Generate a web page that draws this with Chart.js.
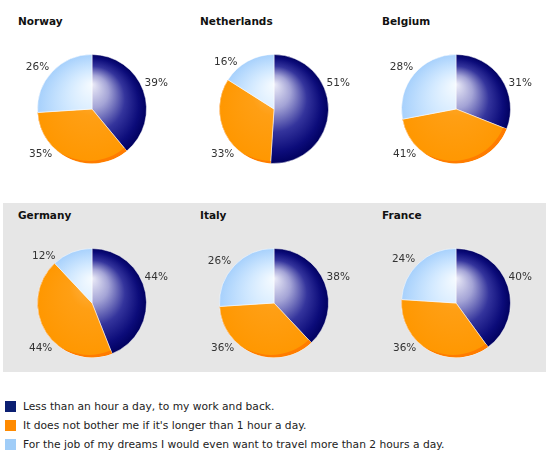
<!DOCTYPE html>
<html>
<head>
<meta charset="utf-8">
<script src="https://cdn.jsdelivr.net/npm/chart.js@4"></script>
<style>
  body { margin: 0; background: #fff; font-family: "DejaVu Sans", Verdana, sans-serif; }
  #page { position: relative; width: 546px; height: 472px; overflow: hidden; }
  .band { position: absolute; left: 3px; top: 203px; width: 543px; height: 169px; background: #e6e6e6; }
  .panel { position: absolute; width: 182px; height: 180px; }
  .panel h3 { position: absolute; left: 18px; top: 15px; margin: 0; font-size: 10.5px; line-height: 13px; font-weight: bold; color: #111; }
  .panel canvas { position: absolute; left: 0; top: 34px; }
  .legend { position: absolute; left: 5px; top: 400px; font-size: 10.7px; color: #222; }
  .legend div { height: 19px; line-height: 13px; white-space: nowrap; }
  .legend span { display: inline-block; width: 11px; height: 11px; margin-right: 7px; vertical-align: -2px; }
</style>
</head>
<body>
<div id="page">
  <div class="band"></div>
  <div id="panels"></div>
  <div class="legend" id="legend"></div>
</div>
<script>
// Данные: доля ответов по странам (%)
const countries = ["Norway", "Netherlands", "Belgium", "Germany", "Italy", "France"];
const lessThanHour = [39, 51, 31, 44, 38, 40];
const longerThanHour = [35, 33, 41, 44, 36, 36];
const dreamJob = [26, 16, 28, 12, 26, 24];
const answers = [
    "Less than an hour a day, to my work and back.",
    "It does not bother me if it's longer than 1 hour a day.",
    "For the job of my dreams I would even want to travel more than 2 hours a day."
];

// Цвета сегментов: [позиция, цвет] от блика к краю
const shades = [
    [[0, "#ececf8"], [0.3, "#a4a4d6"], [0.6, "#34349c"], [0.85, "#0c0c7a"], [1, "#00005e"]],
    [[0, "#ffb54e"], [0.4, "#ff9f14"], [1, "#ff9700"]],
    [[0, "#f6fbff"], [0.45, "#d2e9ff"], [1, "#a6d0fc"]]
];
const legendColors = ["#0b1f72", "#ff8a00", "#a0cdf8"];

function pieGeometry(chart) {
    const area = chart.chartArea;
    return {
        cx: (area.left + area.right) / 2,
        cy: (area.top + area.bottom) / 2,
        r: Math.min(area.right - area.left, area.bottom - area.top) / 2
    };
}

// Объёмная заливка сегмента
function sliceFill(context) {
    const chart = context.chart;
    const s = shades[context.dataIndex];
    if (!chart.chartArea) return s[s.length - 1][1];
    const { cx, cy, r } = pieGeometry(chart);
    const g = chart.ctx.createRadialGradient(cx, cy - 0.45 * r, 0, cx, cy, r);
    s.forEach(stop => g.addColorStop(stop[0], stop[1]));
    return g;
}

// Тёмный край оранжевого сегмента (объём)
const orangeRim = {
    id: "orangeRim",
    afterDatasetsDraw(chart) {
        const arc = chart.getDatasetMeta(0).data[1];
        const p = arc.getProps(["x", "y", "startAngle", "endAngle", "outerRadius"], true);
        const ctx = chart.ctx;
        ctx.save();
        ctx.beginPath();
        ctx.moveTo(p.x, p.y);
        ctx.arc(p.x, p.y, p.outerRadius, p.startAngle, p.endAngle);
        ctx.closePath();
        ctx.clip();
        ctx.beginPath();
        ctx.arc(p.x, p.y, p.outerRadius, 0, Math.PI * 2);
        ctx.arc(p.x - 3, p.y - 2.6, p.outerRadius, 0, Math.PI * 2);
        ctx.fillStyle = "#ff7c00";
        ctx.fill("evenodd");
        ctx.restore();
    }
};

// Подписи процентов снаружи круга
const outsideLabels = {
    id: "outsideLabels",
    afterDatasetsDraw(chart) {
        const ctx = chart.ctx;
        const meta = chart.getDatasetMeta(0);
        const values = chart.data.datasets[0].data;
        ctx.save();
        ctx.font = '10.5px "DejaVu Sans"';
        ctx.fillStyle = "#333";
        ctx.textBaseline = "middle";
        meta.data.forEach((arc, i) => {
            const p = arc.getProps(["x", "y", "startAngle", "endAngle", "outerRadius"], true);
            let deg = ((p.startAngle + p.endAngle) / 2 + Math.PI / 2) * 180 / Math.PI;
            deg = (deg % 360 + 360) % 360;
            let a, r = p.outerRadius + 4;
            if (deg < 180) {
                a = 64;
            } else if (deg < 270) {
                a = 221;
                r = p.outerRadius + 6;
            } else {
                a = Math.min(Math.max(deg, 314), 322);
                r = p.outerRadius + 5;
            }
            const rad = a * Math.PI / 180;
            ctx.textAlign = a < 180 ? "left" : "right";
            ctx.fillText(values[i] + "%", p.x + Math.sin(rad) * r, p.y - Math.cos(rad) * r);
        });
        ctx.restore();
    }
};

const panels = document.getElementById("panels");
countries.forEach((name, i) => {
    let panel = document.createElement("div");
    panel.className = "panel";
    panel.style.left = (i % 3) * 182 + "px";
    panel.style.top = Math.floor(i / 3) * 194 + "px";
    let title = document.createElement("h3");
    title.textContent = name;
    panel.appendChild(title);
    let canvas = document.createElement("canvas");
    canvas.width = 182;
    canvas.height = 146;
    panel.appendChild(canvas);
    panels.appendChild(panel);

    new Chart(canvas.getContext("2d"), {
        type: "pie",
        data: {
            labels: answers,
            datasets: [{
                data: [lessThanHour[i], longerThanHour[i], dreamJob[i]],
                backgroundColor: sliceFill,
                borderColor: "rgba(255,255,255,0.5)",
                borderWidth: 1
            }]
        },
        options: {
            responsive: false,
            devicePixelRatio: 1,
            animation: false,
            layout: { padding: { left: 37, right: 35, top: 20, bottom: 16 } },
            plugins: {
                legend: { display: false },
                tooltip: { enabled: false }
            }
        },
        plugins: [orangeRim, outsideLabels]
    });
});

// Общая легенда
const legend = document.getElementById("legend");
answers.forEach((text, i) => {
    let row = document.createElement("div");
    let box = document.createElement("span");
    box.style.background = legendColors[i];
    row.appendChild(box);
    row.appendChild(document.createTextNode(text));
    legend.appendChild(row);
});
</script>
</body>
</html>
